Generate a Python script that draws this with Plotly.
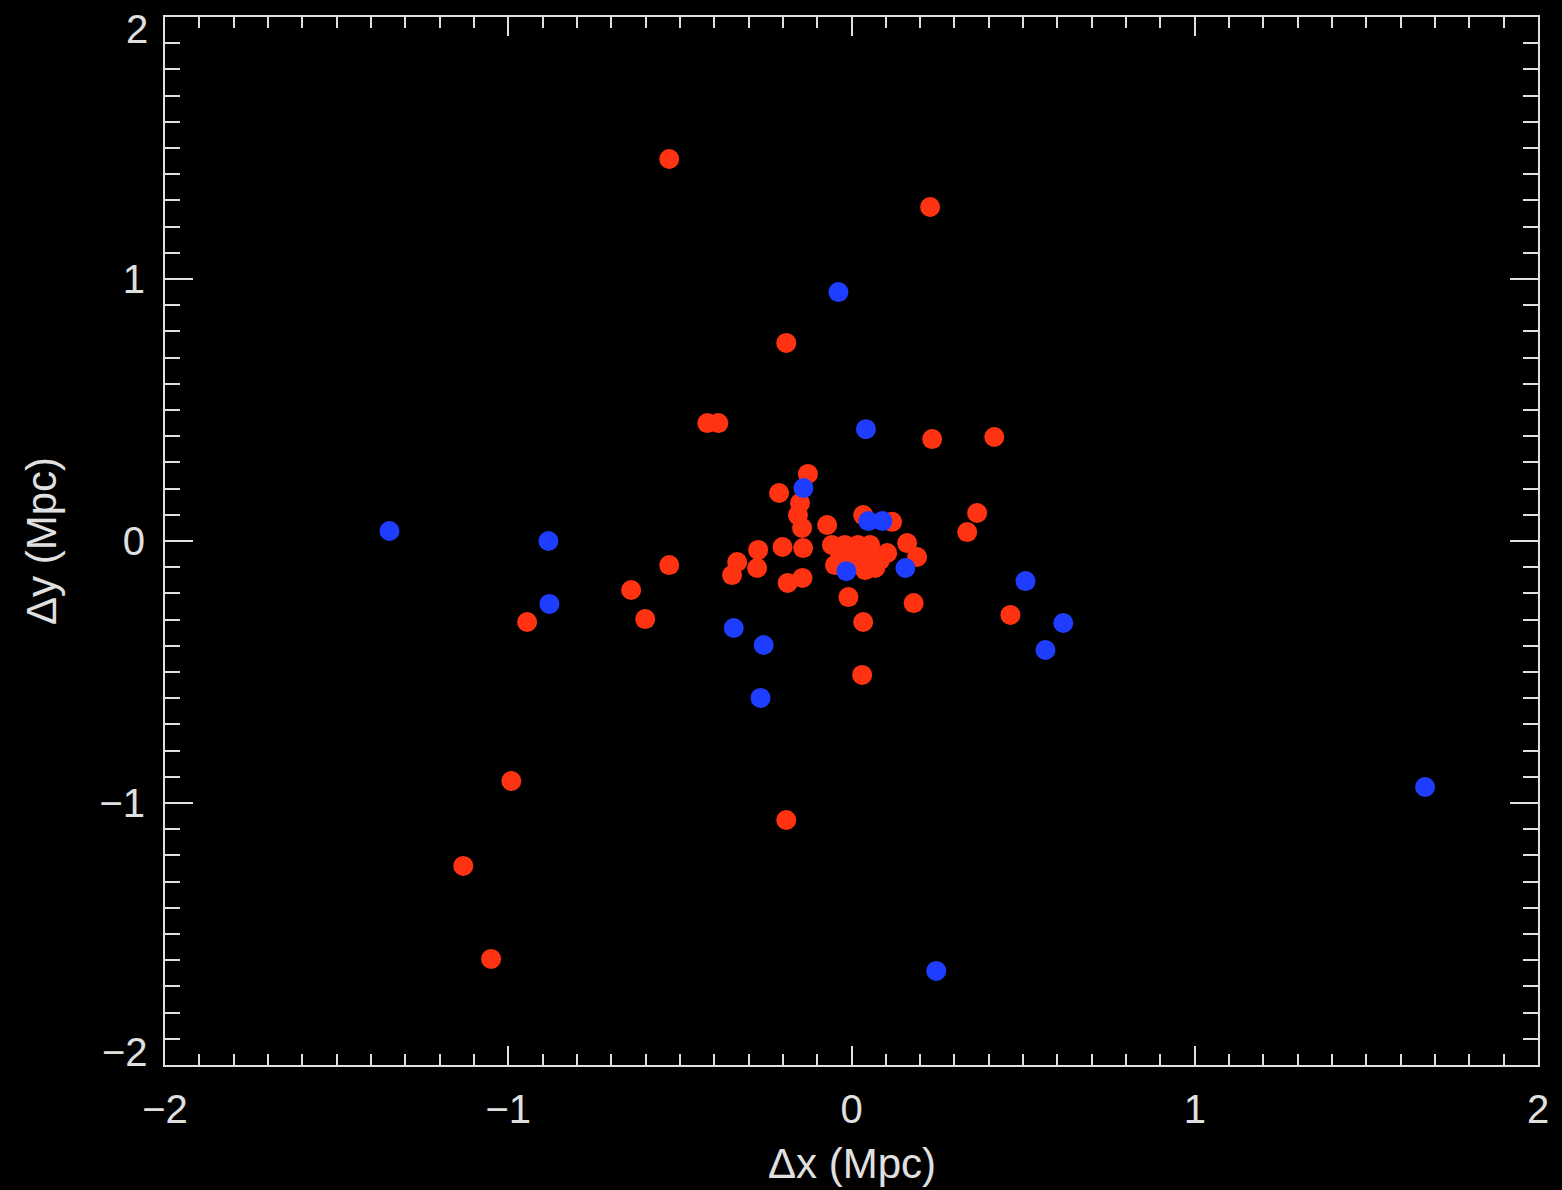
import plotly.graph_objects as go

# Red population (Mpc offsets)
red_x = [-0.531, 0.229, -0.190, -0.420, -0.388, 0.235, 0.416, -0.127, -0.211, -0.150,
         -0.156, -0.144, -0.071, -0.141, 0.034, 0.118, 0.366, 0.337, 0.162, 0.191,
         -0.057, -0.019, 0.019, 0.054, -0.033, 0.010, 0.048, 0.083, -0.004, 0.040,
         0.069, -0.048, 0.104, -0.333, -0.348, -0.272, -0.201, -0.275, -0.186, -0.143,
         -0.531, -0.642, -0.601, -0.945, -0.991, -1.131, -1.050, -0.190, 0.034, 0.031,
         -0.009, 0.181, 0.463]
red_y = [1.458, 1.275, 0.756, 0.450, 0.450, 0.389, 0.397, 0.256, 0.183, 0.145,
         0.099, 0.050, 0.061, -0.027, 0.099, 0.073, 0.107, 0.034, -0.008, -0.061,
         -0.015, -0.015, -0.015, -0.015, -0.053, -0.053, -0.053, -0.073, -0.092, -0.111,
         -0.103, -0.092, -0.046, -0.080, -0.130, -0.034, -0.023, -0.103, -0.160, -0.141,
         -0.092, -0.187, -0.298, -0.309, -0.916, -1.240, -1.595, -1.065, -0.309, -0.511,
         -0.214, -0.237, -0.282]

# Blue population
blue_x = [-1.346, -0.883, -0.880, -0.343, -0.256, -0.265, -0.038, 0.042, -0.140, 0.049,
          0.090, -0.015, 0.157, 0.507, 0.617, 0.565, 0.247, 1.671]
blue_y = [0.038, 0.000, -0.240, -0.332, -0.397, -0.599, 0.950, 0.427, 0.202, 0.076,
          0.076, -0.115, -0.103, -0.153, -0.313, -0.416, -1.641, -0.939]

tick_vals = [-2, -1, 0, 1, 2]
x_tick_text = ["\u22122", "\u22121", "0", "1", "2"]
# y end labels (at +/-2) are drawn inside the frame height as annotations, as in the original
y_tick_text = ["", "\u22121", "0", "1", ""]
y_end_vals = [2, -2]
y_end_text = ["2", "\u22122"]

x_title = "\u0394x (Mpc)"
y_title = "\u0394y (Mpc)"

RED = "#ff3311"
BLUE = "#1f3dff"
FG = "#e0e0e0"
FONT = "Liberation Sans"

fig = go.Figure()
fig.add_trace(go.Scatter(x=red_x, y=red_y, mode="markers",
                         marker=dict(color=RED, size=20, line=dict(width=0)),
                         showlegend=False))
fig.add_trace(go.Scatter(x=blue_x, y=blue_y, mode="markers",
                         marker=dict(color=BLUE, size=20, line=dict(width=0)),
                         showlegend=False))

axis_common = dict(
    range=[-2, 2], tickvals=tick_vals,
    showgrid=False, zeroline=False,
    showline=True, linecolor=FG, linewidth=2, mirror="allticks",
    ticks="inside", tickcolor=FG, tickwidth=2,
    tickfont=dict(family=FONT, size=40, color=FG),
    ticklabeloverflow="allow", automargin=False,
)

fig.update_xaxes(**axis_common, ticktext=x_tick_text, ticklen=19,
                 minor=dict(dtick=0.1, ticks="inside", ticklen=11, tickcolor=FG, tickwidth=2),
                 ticklabelstandoff=8)
fig.update_yaxes(**axis_common, ticktext=y_tick_text, ticklen=28,
                 minor=dict(dtick=0.1, ticks="inside", ticklen=15, tickcolor=FG, tickwidth=2),
                 ticklabelstandoff=10)

shifts = {2: -12, -2: 13}
for v, t in zip(y_end_vals, y_end_text):
    fig.add_annotation(x=0, xref="paper", y=v, yref="y", text=t, showarrow=False,
                       xanchor="right", yanchor="middle", xshift=-15, yshift=shifts[v],
                       font=dict(family=FONT, size=40, color=FG))

fig.add_annotation(x=0.5, xref="paper", y=1163, yref="paper", text=x_title, showarrow=False,
                   font=dict(family=FONT, size=42, color=FG), xanchor="center", yanchor="middle")
fig.update_annotations(selector=dict(text=x_title), y=0, yshift=-(1163 - 1065))

fig.add_annotation(x=0, xref="paper", y=0.5, yref="paper", text=y_title, showarrow=False,
                   textangle=-90, font=dict(family=FONT, size=42, color=FG),
                   xanchor="center", yanchor="middle", xshift=-(165 - 41))

fig.update_layout(
    width=1562, height=1190,
    paper_bgcolor="black", plot_bgcolor="black",
    margin=dict(l=165, r=24, t=17, b=125),
)

fig.write_html("out.html",
               config={"displayModeBar": False},
               post_script="document.body.style.margin='0';document.body.style.background='black';"
                           "document.documentElement.style.background='black';")
